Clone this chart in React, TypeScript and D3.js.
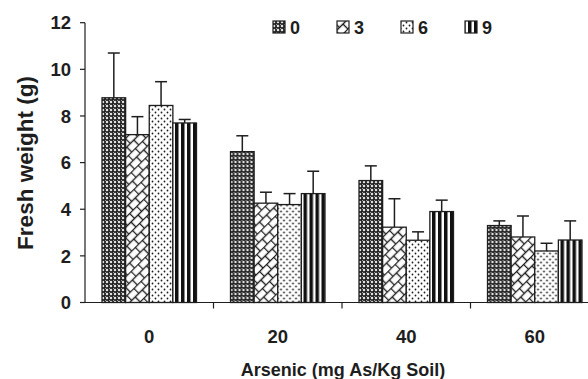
import React from "react";
import * as d3 from "d3";

// arsenic doses (x categories) and treatment series
const doses = ["0", "20", "40", "60"];
const series = ["0", "3", "6", "9"];

// fresh weight means, one array per series (order follows doses)
const s0 = [8.78, 6.47, 5.23, 3.3];
const s3 = [7.2, 4.26, 3.23, 2.81];
const s6 = [8.45, 4.2, 2.67, 2.21];
const s9 = [7.7, 4.67, 3.9, 2.68];

// standard errors
const e0 = [1.92, 0.68, 0.63, 0.2];
const e3 = [0.77, 0.47, 1.22, 0.9];
const e6 = [1.02, 0.47, 0.36, 0.33];
const e9 = [0.15, 0.96, 0.49, 0.82];

const yTicks = [0, 2, 4, 6, 8, 10, 12];

const means = [s0, s3, s6, s9];
const errs = [e0, e3, e6, e9];
const fills = ["url(#p0)", "url(#p3)", "url(#p6)", "url(#p9)"];

const W = 588;
const H = 379;
const font = "'Liberation Sans', Arial, sans-serif";
const ink = "#1e1e1e";

export default function App() {
  const x0 = d3.scaleBand().domain(doses).range([85, 599]);
  const x1 = d3
    .scaleBand()
    .domain(series)
    .range([0, x0.bandwidth()])
    .paddingInner(0)
    .paddingOuter(0.72);
  const y = d3.scaleLinear().domain([0, 12]).range([302.5, 22.7]);

  return (
    <svg
      width={W}
      height={H}
      style={{ position: "absolute", left: 0, top: 0, background: "#fff" }}
      fontFamily={font}
    >
      <defs>
        <pattern id="p0" width={4} height={4} patternUnits="userSpaceOnUse">
          <rect width={4} height={4} fill="#222" />
          <circle cx={2} cy={2} r={1.25} fill="#e2e2e2" />
          <rect x={0} y={0} width={1} height={1} fill="#9a9a9a" />
        </pattern>
        <pattern
          id="p3"
          width={10}
          height={14}
          patternUnits="userSpaceOnUse"
          patternTransform="rotate(-45)"
        >
          <rect width={10} height={14} fill="#fff" />
          <line x1={0} y1={0.5} x2={10} y2={0.5} stroke={ink} strokeWidth={1.4} />
          <line x1={0} y1={7.5} x2={10} y2={7.5} stroke={ink} strokeWidth={1.4} />
          <line x1={0.5} y1={0} x2={0.5} y2={7} stroke={ink} strokeWidth={1.4} />
          <line x1={5.5} y1={7} x2={5.5} y2={14} stroke={ink} strokeWidth={1.4} />
        </pattern>
        <pattern id="p6" width={6} height={6} patternUnits="userSpaceOnUse">
          <rect width={6} height={6} fill="#fff" />
          <circle cx={1.5} cy={1.5} r={0.9} fill={ink} />
          <circle cx={4.5} cy={4.5} r={0.9} fill={ink} />
        </pattern>
        <pattern id="p9" width={6} height={6} patternUnits="userSpaceOnUse">
          <rect width={6} height={6} fill="#fff" />
          <rect x={0} width={3.5} height={6} fill="#111" />
        </pattern>
      </defs>

      {/* bars */}
      {doses.map((d, i) => (
        <g key={d} transform={`translate(${x0(d)},0)`}>
          {series.map((s, j) => {
            const v = means[j][i];
            const e = errs[j][i];
            const bx = x1(s) as number;
            const bw = x1.bandwidth();
            const cx = bx + bw / 2;
            return (
              <g key={s}>
                <line x1={cx} x2={cx} y1={y(v)} y2={y(v + e)} stroke={ink} strokeWidth={1.5} />
                <line x1={cx - 6} x2={cx + 6} y1={y(v + e)} y2={y(v + e)} stroke={ink} strokeWidth={1.5} />
                <rect
                  x={bx}
                  y={y(v)}
                  width={bw}
                  height={y(0) - y(v)}
                  fill={fills[j]}
                  stroke={ink}
                  strokeWidth={1.3}
                />
              </g>
            );
          })}
        </g>
      ))}

      {/* y axis */}
      <line x1={85} x2={85} y1={y(12)} y2={y(0)} stroke={ink} strokeWidth={1.2} />
      {yTicks.map((t) => (
        <g key={t}>
          <line x1={80} x2={85} y1={y(t)} y2={y(t)} stroke={ink} strokeWidth={1.2} />
          <text
            x={71}
            y={y(t)}
            dy="0.36em"
            textAnchor="end"
            fontSize={18.5}
            fontWeight="bold"
            fill={ink}
          >
            {t}
          </text>
        </g>
      ))}

      {/* x axis */}
      <line x1={85} x2={599} y1={y(0)} y2={y(0)} stroke={ink} strokeWidth={1.2} />
      {doses.slice(1).map((d) => (
        <line
          key={d}
          x1={x0(d)}
          x2={x0(d)}
          y1={y(0)}
          y2={y(0) + 6}
          stroke={ink}
          strokeWidth={1.2}
        />
      ))}
      {doses.map((d) => (
        <text
          key={d}
          x={(x0(d) as number) + x0.bandwidth() / 2}
          y={342.5}
          textAnchor="middle"
          fontSize={18.5}
          fontWeight="bold"
          fill={ink}
        >
          {d}
        </text>
      ))}

      <text
        x={343}
        y={376}
        textAnchor="middle"
        fontSize={18}
        fontWeight="bold"
        fill={ink}
      >
        Arsenic (mg As/Kg Soil)
      </text>
      <text
        transform="translate(33,163) rotate(-90)"
        textAnchor="middle"
        fontSize={22.5}
        fontWeight="bold"
        fill={ink}
      >
        Fresh weight (g)
      </text>

      {/* legend */}
      {series.map((s, j) => {
        const lx = 273 + j * 64;
        return (
          <g key={s}>
            <rect x={lx} y={21} width={12} height={12} fill={fills[j]} stroke={ink} strokeWidth={1.2} />
            <text x={lx + 17} y={34} fontSize={18} fontWeight="bold" fill={ink}>
              {s}
            </text>
          </g>
        );
      })}
    </svg>
  );
}
